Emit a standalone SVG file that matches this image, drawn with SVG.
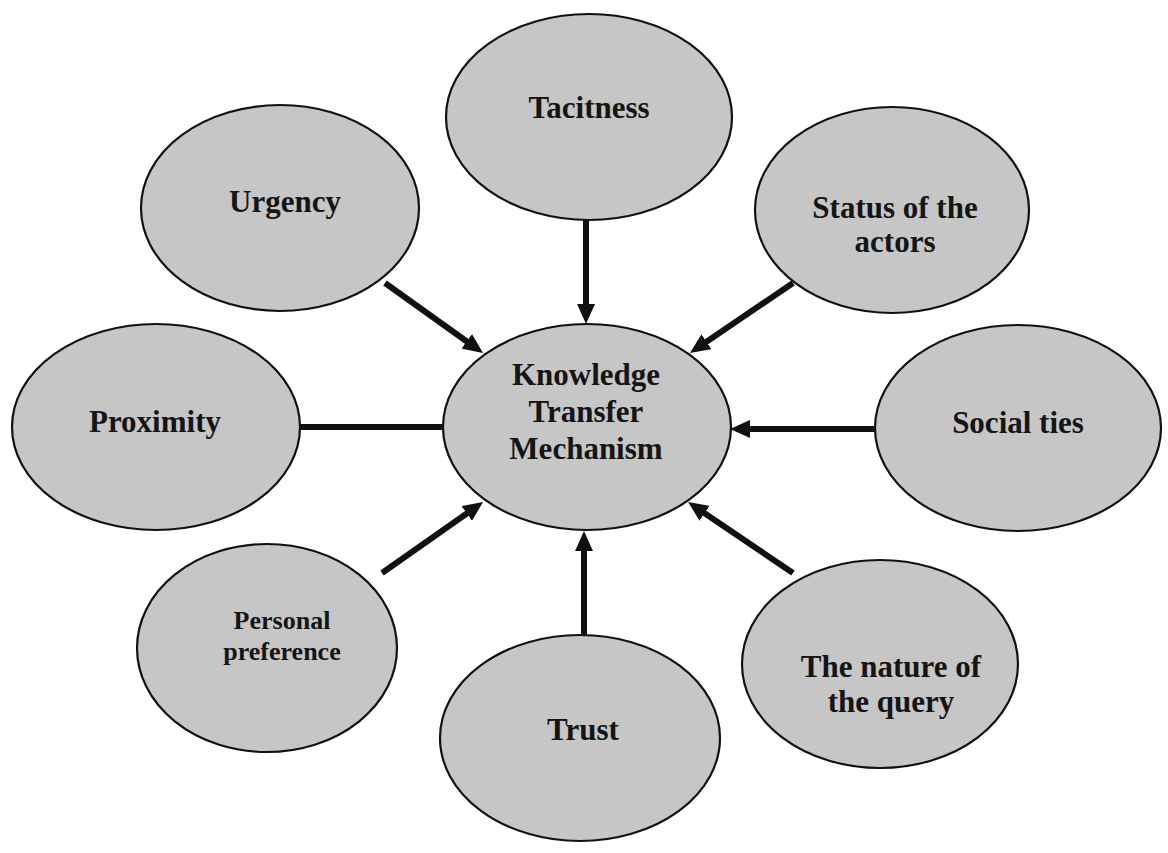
<svg xmlns="http://www.w3.org/2000/svg" width="1168" height="853" viewBox="0 0 1168 853">
  <defs>
    <marker id="head" markerUnits="userSpaceOnUse" markerWidth="20" markerHeight="18" refX="4" refY="9" orient="auto">
      <path d="M0,0 L20,9 L0,18 z" fill="#111"/>
    </marker>
    <style>
      .bubble { fill: #c6c6c6; stroke: #111; stroke-width: 2.2; }
      .label { font-family: "Liberation Serif", "Times New Roman", serif; font-weight: bold; font-size: 31px; fill: #151515; text-anchor: middle; }
      .small { font-size: 26px; }
      .link { stroke: #111; stroke-width: 6; fill: none; }
      .arrow { marker-end: url(#head); }
    </style>
  </defs>
  <rect width="1168" height="853" fill="#ffffff"/>

  <!-- connectors: factors feeding the central mechanism -->
  <g id="connectors">
    <line class="link arrow" x1="586" y1="220" x2="586" y2="308"/>
    <line class="link arrow" x1="385" y1="283" x2="470" y2="343.7"/>
    <line class="link arrow" x1="793" y1="283" x2="703.2" y2="344"/>
    <line class="link" x1="300" y1="427" x2="443" y2="427"/>
    <line class="link arrow" x1="875" y1="429" x2="746" y2="429"/>
    <line class="link arrow" x1="382" y1="573" x2="470" y2="511.2"/>
    <line class="link arrow" x1="584" y1="635" x2="584" y2="547"/>
    <line class="link arrow" x1="793" y1="573" x2="701.3" y2="511"/>
  </g>

  <g id="node-center">
    <ellipse class="bubble" cx="587" cy="427" rx="144" ry="103"/>
    <text class="label" x="586" y="385">Knowledge</text>
    <text class="label" x="586" y="422">Transfer</text>
    <text class="label" x="586" y="459">Mechanism</text>
  </g>

  <g id="node-tacitness">
    <ellipse class="bubble" cx="589" cy="117" rx="143" ry="103"/>
    <text class="label" x="589" y="118">Tacitness</text>
  </g>

  <g id="node-urgency">
    <ellipse class="bubble" cx="280" cy="208" rx="139" ry="103"/>
    <text class="label" x="285" y="212">Urgency</text>
  </g>

  <g id="node-status">
    <ellipse class="bubble" cx="892" cy="210" rx="137" ry="103"/>
    <text class="label" x="895" y="218">Status of the</text>
    <text class="label" x="895" y="252">actors</text>
  </g>

  <g id="node-proximity">
    <ellipse class="bubble" cx="156" cy="427" rx="144" ry="103"/>
    <text class="label" x="155" y="432">Proximity</text>
  </g>

  <g id="node-social">
    <ellipse class="bubble" cx="1018" cy="428" rx="143" ry="103"/>
    <text class="label" x="1018" y="433">Social ties</text>
  </g>

  <g id="node-personal">
    <ellipse class="bubble" cx="267" cy="648" rx="130" ry="104"/>
    <text class="label small" x="282" y="629">Personal</text>
    <text class="label small" x="282" y="660">preference</text>
  </g>

  <g id="node-trust">
    <ellipse class="bubble" cx="580" cy="738" rx="140" ry="103"/>
    <text class="label" x="583" y="740">Trust</text>
  </g>

  <g id="node-nature">
    <ellipse class="bubble" cx="880" cy="664" rx="138" ry="104"/>
    <text class="label" x="891" y="677">The nature of</text>
    <text class="label" x="891" y="712">the query</text>
  </g>
</svg>
